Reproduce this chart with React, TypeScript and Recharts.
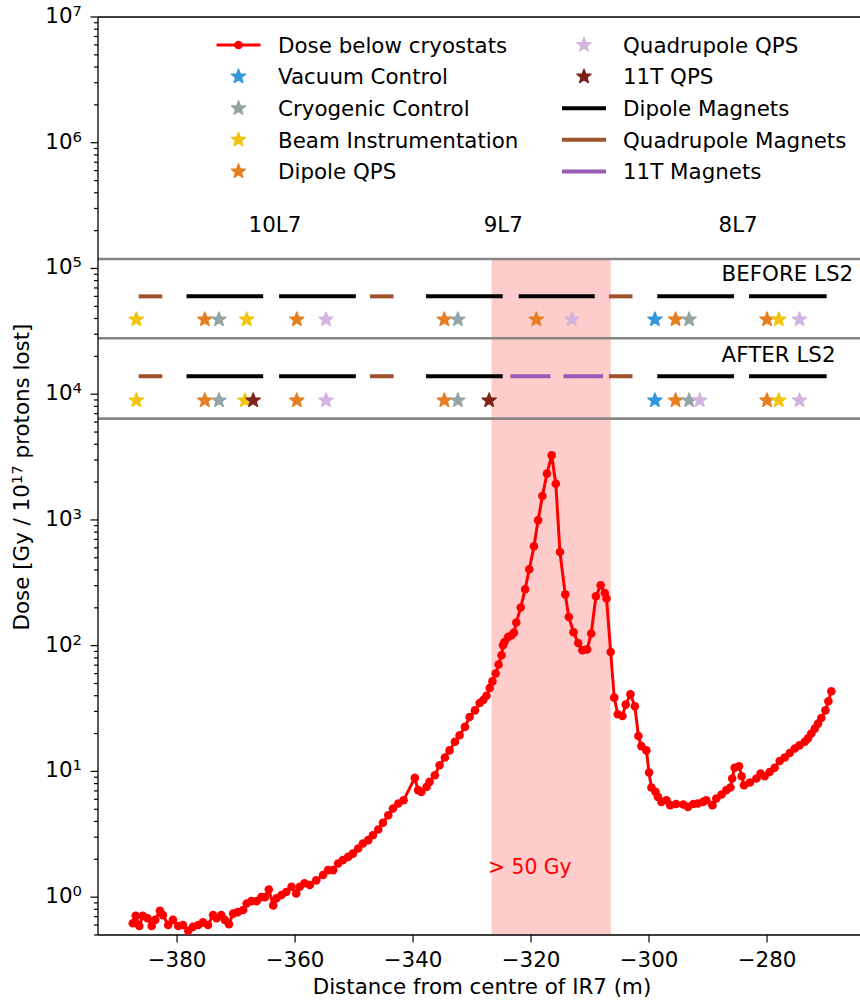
import React from 'react';
import {
  ComposedChart,
  Line,
  Scatter,
  XAxis,
  YAxis,
  ReferenceLine,
  ReferenceArea,
  ReferenceDot,
  Customized,
} from 'recharts';

// ---------------- Data ----------------
const doseX = [
  -387.5, -387.0, -386.4, -385.8, -385.0, -384.3, -383.7, -382.9, -382.4, -381.5,
  -380.7, -379.8, -379.0, -378.1, -377.3, -376.4, -375.6, -374.75, -373.9, -373.3,
  -372.5, -371.9, -371.2, -370.5, -369.7, -368.8, -368.2, -367.4, -366.5, -365.7,
  -365.1, -364.45, -363.7, -363.15, -362.3, -361.5, -360.6, -359.8, -359.2, -358.4,
  -357.5, -356.4, -355.25, -354.4, -353.55, -352.7, -351.9, -351.0, -350.2, -349.3,
  -348.5, -347.6, -346.8, -345.9, -345.1, -344.2, -343.4, -342.5, -341.6, -339.7,
  -339.15, -338.6, -337.7, -337.2, -336.3, -335.5, -334.6, -333.8, -332.9, -332.1,
  -331.2, -330.4, -329.5, -328.7, -328.1, -327.55, -327.0, -326.55, -326.0, -325.5,
  -325.0, -324.75, -324.5, -323.9, -323.3, -322.9, -322.5, -321.75, -321.0, -320.3,
  -319.5, -318.8, -318.07, -317.3, -316.5, -315.8, -315.1, -314.2, -313.6, -312.8,
  -312.0, -311.3, -310.5, -309.8, -309.0, -308.2, -307.5, -307.2, -306.5, -305.9,
  -305.3, -304.5, -303.95, -303.15, -302.4, -301.8, -301.3, -300.45, -300.0, -299.6,
  -298.9, -298.5, -297.9, -297.05, -296.4, -295.4, -294.2, -293.4, -292.5, -291.7,
  -290.85, -290.3, -289.25, -288.6, -287.7, -286.9, -286.2, -285.9, -285.5, -284.75,
  -284.3, -283.9, -282.9, -281.8, -281.1, -280.4, -279.55, -278.7, -277.85, -277.0,
  -276.15, -275.3, -274.5, -273.6, -273.05, -272.5, -271.9, -271.35, -270.8, -270.1,
  -269.6, -269.1,
];
const doseY = [
  0.62, 0.71, 0.59, 0.71, 0.68, 0.59, 0.66, 0.78, 0.72, 0.6,
  0.66, 0.59, 0.6, 0.54, 0.58, 0.6, 0.63, 0.6, 0.72, 0.68,
  0.72, 0.66, 0.61, 0.74, 0.76, 0.79, 0.89, 0.93, 0.93, 1.0,
  1.0, 1.15, 0.86, 0.98, 1.04, 1.1, 1.21, 1.07, 1.21, 1.29,
  1.25, 1.36, 1.5, 1.64, 1.64, 1.85, 1.97, 2.09, 2.22, 2.44,
  2.67, 2.84, 3.11, 3.45, 3.9, 4.48, 5.07, 5.56, 5.9, 8.88,
  7.1, 6.87, 7.53, 8.26, 9.33, 11.2, 12.9, 14.7, 17.2, 19.4,
  22.6, 27.1, 30.6, 35, 37, 40, 46, 52, 60, 70.8,
  84, 101, 107, 117, 121, 127, 153, 201, 281, 405,
  617, 993, 1550, 2335, 3260, 1940, 556, 256, 169, 128,
  105, 92, 93.5, 125, 247, 302, 262, 237, 89, 38.6,
  28.5, 27.6, 34, 41, 33, 19.1, 15.9, 14.7, 9.8, 7.45,
  6.87, 6.27, 5.72, 5.9, 5.39, 5.5, 5.46, 5.22, 5.5, 5.55,
  5.72, 5.9, 5.39, 6.09, 6.55, 7.1, 7.45, 8.78, 10.7, 11.0,
  9.16, 7.77, 8.17, 8.78, 9.62, 9.16, 9.9, 10.7, 12.1, 12.9,
  14.0, 15.2, 16.1, 17.2, 18.3, 20, 21.9, 24, 26.6, 30.6,
  36.1, 43.4,
];
const doseData = doseX.map((x, i) => ({ x, y: doseY[i] }));

// rows of the layout panel (dose units on the log axis)
const BEFORE_MAG_Y = 6.0e4;
const BEFORE_STAR_Y = 3.93e4;
const AFTER_MAG_Y = 1.39e4;
const AFTER_STAR_Y = 8.93e3;
const separatorYs = [1.19e5, 2.79e4, 6.39e3];

// magnets [start, end] in m
const dipoleBefore = [
  [-378.4, -365.4], [-362.7, -349.7], [-337.8, -324.8], [-322.1, -309.2], [-298.6, -285.6], [-283.05, -269.9],
];
const dipoleAfter = [
  [-378.4, -365.4], [-362.7, -349.7], [-337.8, -324.8], [-298.6, -285.6], [-283.05, -269.9],
];
const quadBefore = [[-386.5, -382.5], [-347.3, -343.3], [-306.8, -302.8]];
const quadAfter = [[-386.5, -382.5], [-347.3, -343.3], [-306.8, -302.8]];
const elevenTAfter = [[-323.5, -316.7], [-314.5, -307.8]];

// electronics positions (m)
const vacuumBefore = [-299.0];
const vacuumAfter = [-299.0];
const cryoBefore = [-372.9, -332.4, -293.2];
const cryoAfter = [-372.9, -332.4, -293.2];
const beamBefore = [-386.9, -368.2, -278.0];
const beamAfter = [-386.9, -368.5, -278.0];
const dipoleQpsBefore = [-375.3, -359.7, -334.7, -319.1, -295.5, -280.0];
const dipoleQpsAfter = [-375.3, -359.7, -334.7, -295.5, -280.0];
const quadQpsBefore = [-354.75, -313.1, -274.5];
const quadQpsAfter = [-354.75, -291.4, -274.5];
const qps11TBefore: number[] = [];
const qps11TAfter = [-367.1, -327.1];

const xTicks = [-380, -360, -340, -320, -300, -280];
const yMajorTicks = [1, 10, 100, 1e3, 1e4, 1e5, 1e6, 1e7];
const yMinorTicks = [
  0.5, 0.6, 0.7, 0.8, 0.9,
  2, 3, 4, 5, 6, 7, 8, 9,
  20, 30, 40, 50, 60, 70, 80, 90,
  200, 300, 400, 500, 600, 700, 800, 900,
  2e3, 3e3, 4e3, 5e3, 6e3, 7e3, 8e3, 9e3,
  2e4, 3e4, 4e4, 5e4, 6e4, 7e4, 8e4, 9e4,
  2e5, 3e5, 4e5, 5e5, 6e5, 7e5, 8e5, 9e5,
  2e6, 3e6, 4e6, 5e6, 6e6, 7e6, 8e6, 9e6,
];
const yTicks = [...yMajorTicks, ...yMinorTicks].sort((a, b) => a - b);

const cellLabels = [
  { x: -363.4, y: 1.95e5, text: '10L7' },
  { x: -324.7, y: 1.95e5, text: '9L7' },
  { x: -284.9, y: 1.95e5, text: '8L7' },
];
const rowLabels = [
  { x: -287.7, y: 7.95e4, text: 'BEFORE LS2' },
  { x: -287.7, y: 1.79e4, text: 'AFTER LS2' },
];
const band = { x1: -326.7, x2: -306.5 };
const bandLabel = { x: -327.3, y: 1.54, text: '> 50 Gy' };

// ---------------- Styles ----------------
const FONT = 'DejaVu Sans';
const FS = 21.4;
const RED = '#ff0000';
const C_VAC = '#3498db';
const C_CRYO = '#95a5a6';
const C_BEAM = '#f1c40f';
const C_DQPS = '#e67e22';
const C_QQPS = '#d2b4de';
const C_11QPS = '#7b241c';
const C_DIP = '#000000';
const C_QUAD = '#a0522d';
const C_11T = '#9b59b6';
const STAR_R = 7.4;

const starPath = (cx: number, cy: number, R: number) => {
  let d = '';
  for (let i = 0; i < 10; i++) {
    const r = i % 2 === 0 ? R : R * 0.42;
    const a = -Math.PI / 2 + (i * Math.PI) / 5;
    d += (i === 0 ? 'M' : 'L') + (cx + r * Math.cos(a)).toFixed(2) + ',' + (cy + r * Math.sin(a)).toFixed(2);
  }
  return d + 'Z';
};
const StarMark = ({ cx, cy, color }: { cx: number; cy: number; color: string }) => (
  <path d={starPath(cx, cy, STAR_R)} fill={color} stroke={color} strokeWidth={1.4} strokeLinejoin="round" />
);
const makeStar = (color: string) => (props: any) =>
  props.cx == null ? <g /> : <StarMark cx={props.cx} cy={props.cy} color={color} />;

const pts = (before: number[], after: number[]) => [
  ...before.map((x) => ({ x, y: BEFORE_STAR_Y })),
  ...after.map((x) => ({ x, y: AFTER_STAR_Y })),
];

const YTick = (props: any) => {
  const { x, y, payload } = props;
  const v = payload.value as number;
  const exp = Math.round(Math.log10(v));
  const major = Math.abs(v - Math.pow(10, exp)) < 1e-6 * v;
  return (
    <g>
      <line x1={x - (major ? 7.5 : 4)} x2={x} y1={y} y2={y} stroke="#000" strokeWidth={1.2} />
      {major && (
        <text x={x - 16} y={y + 6} textAnchor="end" fontFamily={FONT} fontSize={FS} fill="#000">
          10
          <tspan dy={-7} fontSize={14.9}>{String(exp)}</tspan>
        </text>
      )}
    </g>
  );
};

const XTick = (props: any) => {
  const { x, y, payload } = props;
  const v = payload.value as number;
  const s = v < 0 ? '\u2212' + Math.abs(v) : String(v);
  return (
    <g>
      <line x1={x} x2={x} y1={y} y2={y + 7.5} stroke="#000" strokeWidth={1.2} />
      <text x={x} y={y + 32} textAnchor="middle" fontFamily={FONT} fontSize={FS} fill="#000">
        {s}
      </text>
    </g>
  );
};

const legendRowsY = [45, 76.6, 108.2, 139.8, 171.4];

const Decorations = () => {
  const col1Mark = 238.5;
  const col1Text = 278;
  const col2Mark = 584;
  const col2Text = 623;
  const txt = (x: number, y: number, s: string) => (
    <text x={x} y={y + 7.7} fontFamily={FONT} fontSize={FS} fill="#000">{s}</text>
  );
  const seg = (cx: number, y: number, color: string, w: number) => (
    <line x1={cx - 22} x2={cx + 22} y1={y} y2={y} stroke={color} strokeWidth={w} />
  );
  return (
    <g>
      {/* legend column 1 */}
      {seg(col1Mark, legendRowsY[0], RED, 3)}
      <circle cx={col1Mark} cy={legendRowsY[0]} r={4.3} fill={RED} />
      {txt(col1Text, legendRowsY[0], 'Dose below cryostats')}
      <StarMark cx={col1Mark} cy={legendRowsY[1]} color={C_VAC} />
      {txt(col1Text, legendRowsY[1], 'Vacuum Control')}
      <StarMark cx={col1Mark} cy={legendRowsY[2]} color={C_CRYO} />
      {txt(col1Text, legendRowsY[2], 'Cryogenic Control')}
      <StarMark cx={col1Mark} cy={legendRowsY[3]} color={C_BEAM} />
      {txt(col1Text, legendRowsY[3], 'Beam Instrumentation')}
      <StarMark cx={col1Mark} cy={legendRowsY[4]} color={C_DQPS} />
      {txt(col1Text, legendRowsY[4], 'Dipole QPS')}
      {/* legend column 2 */}
      <StarMark cx={col2Mark} cy={legendRowsY[0]} color={C_QQPS} />
      {txt(col2Text, legendRowsY[0], 'Quadrupole QPS')}
      <StarMark cx={col2Mark} cy={legendRowsY[1]} color={C_11QPS} />
      {txt(col2Text, legendRowsY[1], '11T QPS')}
      {seg(col2Mark, legendRowsY[2], C_DIP, 4)}
      {txt(col2Text, legendRowsY[2], 'Dipole Magnets')}
      {seg(col2Mark, legendRowsY[3], C_QUAD, 4)}
      {txt(col2Text, legendRowsY[3], 'Quadrupole Magnets')}
      {seg(col2Mark, legendRowsY[4], C_11T, 4)}
      {txt(col2Text, legendRowsY[4], '11T Magnets')}
      {/* axis titles */}
      <text x={482} y={994} textAnchor="middle" fontFamily={FONT} fontSize={FS} fill="#000">
        Distance from centre of IR7 (m)
      </text>
      <text transform="translate(29,477) rotate(-90)" textAnchor="middle" fontFamily={FONT} fontSize={FS} fill="#000">
        Dose [Gy / 10
        <tspan dy={-7} fontSize={14.9}>17</tspan>
        <tspan dy={7}> protons lost]</tspan>
      </text>
    </g>
  );
};

const segLines = (segs: number[][], y: number, color: string, key: string) =>
  segs.map((s, i) => (
    <ReferenceLine
      key={key + i}
      segment={[{ x: s[0], y }, { x: s[1], y }]}
      stroke={color}
      strokeWidth={4}
      ifOverflow="visible"
    />
  ));

export default function App() {
  return (
    <div
      style={{
        position: 'absolute',
        left: 0,
        top: 0,
        width: 860,
        height: 1001,
        overflow: 'hidden',
        background: '#fff',
        fontFamily: FONT,
      }}
    >
      <ComposedChart width={870} height={1001} margin={{ top: 17, right: 8, left: 10, bottom: 6 }}>
        <XAxis
          dataKey="x"
          type="number"
          domain={[-393.4, -263.9]}
          allowDataOverflow
          ticks={xTicks}
          interval={0}
          tick={<XTick />}
          tickLine={false}
          tickSize={0}
          tickMargin={0}
          height={60}
          axisLine={{ stroke: '#000', strokeWidth: 1.3 }}
        />
        <YAxis
          type="number"
          scale="log"
          domain={[0.5, 1e7]}
          allowDataOverflow
          ticks={yTicks}
          interval={0}
          tick={<YTick />}
          tickLine={false}
          tickSize={0}
          tickMargin={0}
          width={88}
          axisLine={{ stroke: '#000', strokeWidth: 1.3 }}
        />
        <ReferenceArea
          x1={band.x1}
          x2={band.x2}
          y1={0.5}
          y2={separatorYs[0]}
          fill="#ff0000"
          fillOpacity={0.2}
          stroke="none"
          ifOverflow="visible"
        />
        {separatorYs.map((y, i) => (
          <ReferenceLine key={'sep' + i} y={y} stroke="#808080" strokeWidth={2.6} strokeOpacity={0.95} />
        ))}
        <ReferenceLine y={1e7} stroke="#000" strokeWidth={1.3} />
        {segLines(quadBefore, BEFORE_MAG_Y, C_QUAD, 'qb')}
        {segLines(dipoleBefore, BEFORE_MAG_Y, C_DIP, 'db')}
        {segLines(quadAfter, AFTER_MAG_Y, C_QUAD, 'qa')}
        {segLines(dipoleAfter, AFTER_MAG_Y, C_DIP, 'da')}
        {segLines(elevenTAfter, AFTER_MAG_Y, C_11T, 'ta')}
        {cellLabels.map((l, i) => (
          <ReferenceDot
            key={'cl' + i}
            x={l.x}
            y={l.y}
            r={1}
            ifOverflow="visible"
            shape={(p: any) => (
              <text x={p.cx} y={p.cy} textAnchor="middle" fontFamily={FONT} fontSize={FS} fill="#000">
                {l.text}
              </text>
            )}
          />
        ))}
        {rowLabels.map((l, i) => (
          <ReferenceDot
            key={'rl' + i}
            x={l.x}
            y={l.y}
            r={1}
            ifOverflow="visible"
            shape={(p: any) => (
              <text x={p.cx} y={p.cy} textAnchor="start" fontFamily={FONT} fontSize={FS} fill="#000">
                {l.text}
              </text>
            )}
          />
        ))}
        <ReferenceDot
          x={bandLabel.x}
          y={bandLabel.y}
          r={1}
          ifOverflow="visible"
          shape={(p: any) => (
            <text x={p.cx} y={p.cy} textAnchor="start" fontFamily={FONT} fontSize={FS * 0.95} fill={RED}>
              {bandLabel.text}
            </text>
          )}
        />
        <Scatter data={pts(dipoleQpsBefore, dipoleQpsAfter)} dataKey="y" shape={makeStar(C_DQPS)} isAnimationActive={false} />
        <Scatter data={pts(vacuumBefore, vacuumAfter)} dataKey="y" shape={makeStar(C_VAC)} isAnimationActive={false} />
        <Scatter data={pts(cryoBefore, cryoAfter)} dataKey="y" shape={makeStar(C_CRYO)} isAnimationActive={false} />
        <Scatter data={pts(beamBefore, beamAfter)} dataKey="y" shape={makeStar(C_BEAM)} isAnimationActive={false} />
        <Scatter data={pts(quadQpsBefore, quadQpsAfter)} dataKey="y" shape={makeStar(C_QQPS)} isAnimationActive={false} />
        <Scatter data={pts(qps11TBefore, qps11TAfter)} dataKey="y" shape={makeStar(C_11QPS)} isAnimationActive={false} />
        <Line
          data={doseData}
          dataKey="y"
          type="linear"
          stroke={RED}
          strokeWidth={3}
          dot={{ r: 4.3, fill: RED, stroke: 'none' }}
          activeDot={false}
          isAnimationActive={false}
        />
        <Customized component={Decorations} />
      </ComposedChart>
    </div>
  );
}
